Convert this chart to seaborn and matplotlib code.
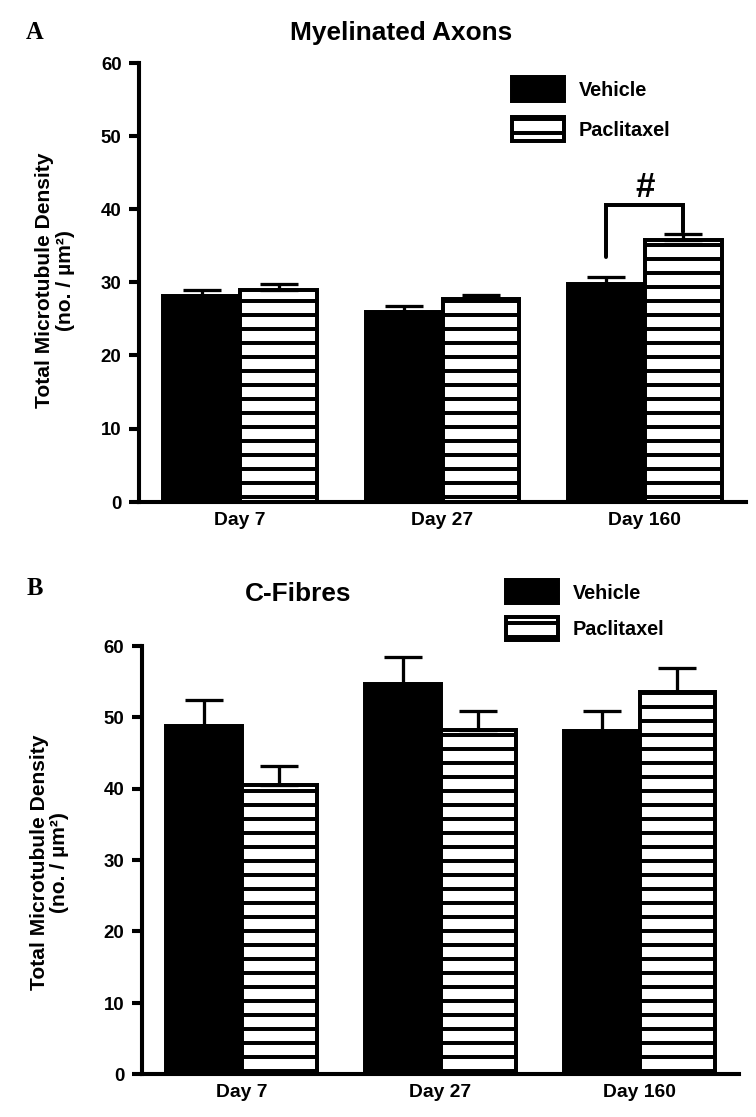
import matplotlib
matplotlib.use('Agg')
import matplotlib.pyplot as plt
from matplotlib.patches import Patch
import seaborn as sns
import pandas as pd
import numpy as np

## values
days = ['Day 7', 'Day 27', 'Day 160']
groups = ['Vehicle', 'Paclitaxel']

myelin_vehicle = [28.1, 25.9, 29.8]
myelin_vehicle_err = [0.9, 0.8, 0.9]
myelin_paclitaxel = [29.0, 27.7, 35.8]
myelin_paclitaxel_err = [0.7, 0.6, 0.8]

cfibre_vehicle = [48.7, 54.6, 48.0]
cfibre_vehicle_err = [3.7, 3.8, 2.9]
cfibre_paclitaxel = [40.5, 48.2, 53.5]
cfibre_paclitaxel_err = [2.6, 2.6, 3.4]

yticks = [0, 10, 20, 30, 40, 50, 60]
ylabel = 'Total Microtubule Density\n(no. / µm²)'

## style
DPI = 84
sns.set_style('ticks')
plt.rcParams['font.family'] = ['Liberation Sans', 'DejaVu Sans']
plt.rcParams['font.weight'] = 'bold'
plt.rcParams['hatch.linewidth'] = 3.4
plt.rcParams['hatch.color'] = 'black'
plt.rcParams['axes.linewidth'] = 3.5
for key in ['text.color', 'axes.labelcolor', 'xtick.color', 'ytick.color', 'axes.edgecolor']:
    plt.rcParams[key] = 'black'

palette = {'Vehicle': 'black', 'Paclitaxel': 'white'}

fig = plt.figure(figsize=(756 / DPI, 1117.4 / DPI), dpi=DPI)
ax_a = fig.add_axes([139 / 756, 1 - 502 / 1117, 607 / 756, 439 / 1117])
ax_b = fig.add_axes([142 / 756, 1 - 1074 / 1117, 597 / 756, 428 / 1117])


def draw_panel(ax, veh, veh_err, pac, pac_err):
    df = pd.DataFrame({
        'day': days * 2,
        'group': ['Vehicle'] * 3 + ['Paclitaxel'] * 3,
        'value': veh + pac,
    })
    sns.barplot(data=df, x='day', y='value', hue='group', order=days, hue_order=groups,
                palette=palette, errorbar=None, width=0.76, gap=0, saturation=1,
                edgecolor='black', linewidth=3.4, legend=False, ax=ax)
    for bar in ax.containers[1]:
        bar.set_hatch('-')
        bar.set_joinstyle('miter')
    # upper error bars only
    for cont, errs in zip(ax.containers, [veh_err, pac_err]):
        xs = [b.get_x() + b.get_width() / 2 for b in cont]
        ys = [b.get_height() for b in cont]
        ax.errorbar(xs, ys, yerr=[np.zeros(len(errs)), errs], fmt='none', ecolor='black',
                    elinewidth=2.8, capsize=16, capthick=2.8, zorder=1)
    ax.set_xlim(-0.5, 2.5)
    ax.set_ylim(0, 60)
    ax.set_yticks(yticks)
    ax.set_xlabel('')
    ax.set_ylabel(ylabel, fontsize=18, fontweight='bold', linespacing=1.1)
    ax.yaxis.label.set_va('center')
    ax.tick_params(axis='y', length=9, width=3.5, pad=6, labelsize=16)
    ax.tick_params(axis='x', length=0, pad=8, labelsize=16.5)
    sns.despine(ax=ax)


def add_legend(ax, left_px, top_px, spacing):
    handles = [Patch(facecolor='black', edgecolor='black', linewidth=3.4, joinstyle='round'),
               Patch(facecolor='white', edgecolor='black', linewidth=3.4, hatch='-', joinstyle='round')]
    ax.legend(handles, groups, loc='upper left',
              bbox_to_anchor=(left_px / 756, 1 - top_px / 1117), bbox_transform=fig.transFigure,
              frameon=False, borderpad=0, borderaxespad=0, handlelength=2.62, handleheight=1.46,
              handletextpad=0.75, labelspacing=spacing, prop={'size': 17, 'weight': 'bold'})


## Panel A
draw_panel(ax_a, myelin_vehicle, myelin_vehicle_err, myelin_paclitaxel, myelin_paclitaxel_err)
ax_a.yaxis.set_label_coords(-0.138, 0.505)
add_legend(ax_a, 512, 77.5, 0.81)

# significance bracket on Day 160
veh_bar = ax_a.containers[0][2]
pac_bar = ax_a.containers[1][2]
x1 = veh_bar.get_x() + veh_bar.get_width() / 2
x2 = pac_bar.get_x() + pac_bar.get_width() / 2
ax_a.plot([x1, x1, x2, x2], [33.4, 40.5, 40.5, 36.9], color='black', lw=3.4,
          solid_joinstyle='miter', solid_capstyle='round')
ax_a.text((x1 + x2) / 2, 43.0, '#', ha='center', va='center', fontsize=30, fontweight='bold')

## Panel B
draw_panel(ax_b, cfibre_vehicle, cfibre_vehicle_err, cfibre_paclitaxel, cfibre_paclitaxel_err)
ax_b.yaxis.set_label_coords(-0.155, 0.495)
add_legend(ax_b, 506, 580, 0.66)

## titles and panel letters
fig.text(401 / 756, 1 - 33 / 1117, 'Myelinated Axons', ha='center', va='center',
         fontsize=22.5, fontweight='bold')
fig.text(298 / 756, 1 - 594 / 1117, 'C-Fibres', ha='center', va='center',
         fontsize=22.5, fontweight='bold')
fig.text(35 / 756, 1 - 32 / 1117, 'A', ha='center', va='center', fontsize=21,
         fontweight='bold', family=['Liberation Serif', 'DejaVu Serif'])
fig.text(35 / 756, 1 - 588 / 1117, 'B', ha='center', va='center', fontsize=21,
         fontweight='bold', family=['Liberation Serif', 'DejaVu Serif'])

fig.savefig('out.png', dpi=DPI)
